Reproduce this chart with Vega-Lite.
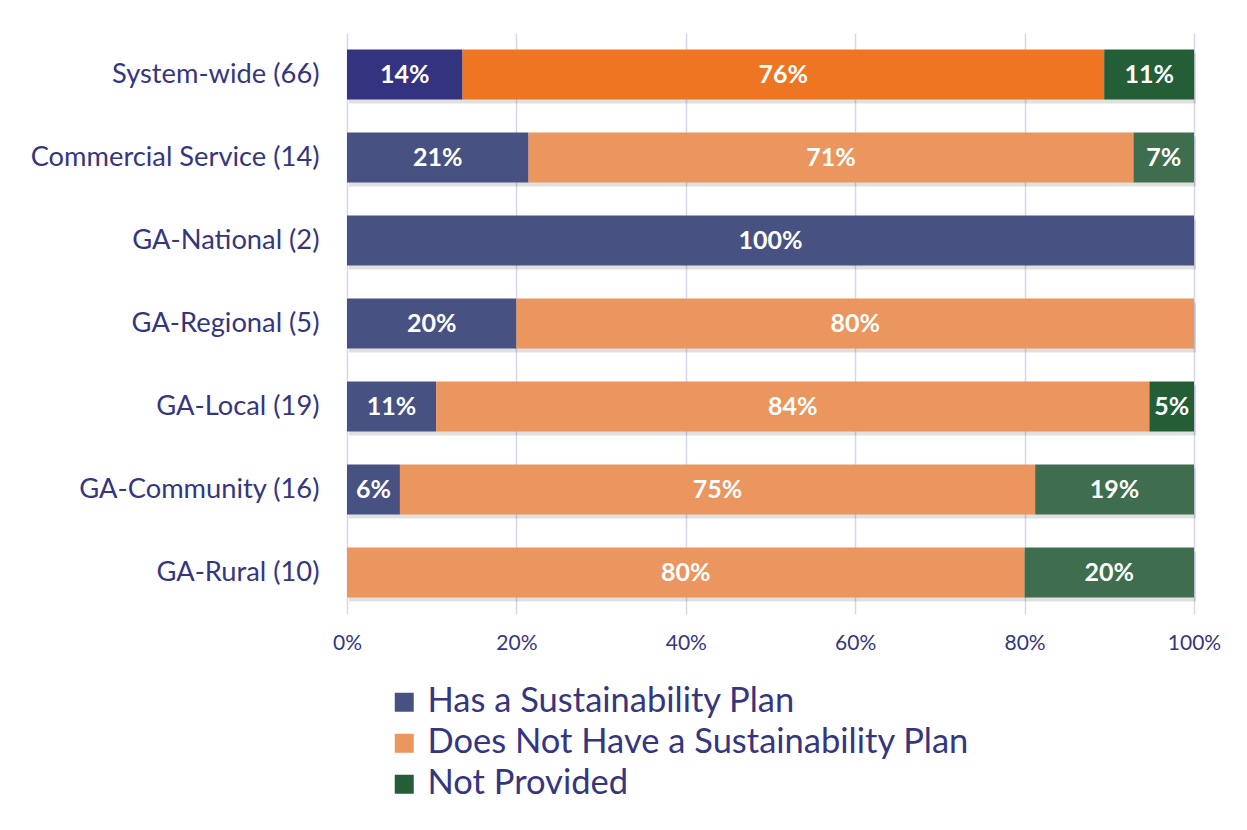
{
  "$schema": "https://vega.github.io/schema/vega-lite/v6.json",
  "autosize": "none",
  "width": 847,
  "height": 581,
  "padding": {"left": 347, "top": 33, "right": 53, "bottom": 216},
  "background": "white",
  "config": {"view": {"stroke": null}, "font": "Lato"},
  "data": {"values": [
    {"group": "System-wide (66)", "series": "Has a Sustainability Plan", "key": "sw_has", "ord": 1, "value": 0.1364},
    {"group": "System-wide (66)", "series": "Does Not Have a Sustainability Plan", "key": "sw_not", "ord": 2, "value": 0.7576},
    {"group": "System-wide (66)", "series": "Not Provided", "key": "Not Provided", "ord": 3, "value": 0.1061},
    {"group": "Commercial Service (14)", "series": "Has a Sustainability Plan", "key": "Has a Sustainability Plan", "ord": 1, "value": 0.2143},
    {"group": "Commercial Service (14)", "series": "Does Not Have a Sustainability Plan", "key": "Does Not Have a Sustainability Plan", "ord": 2, "value": 0.7143},
    {"group": "Commercial Service (14)", "series": "Not Provided", "key": "green_light", "ord": 3, "value": 0.0714},
    {"group": "GA-National (2)", "series": "Has a Sustainability Plan", "key": "Has a Sustainability Plan", "ord": 1, "value": 1.0},
    {"group": "GA-Regional (5)", "series": "Has a Sustainability Plan", "key": "Has a Sustainability Plan", "ord": 1, "value": 0.2},
    {"group": "GA-Regional (5)", "series": "Does Not Have a Sustainability Plan", "key": "Does Not Have a Sustainability Plan", "ord": 2, "value": 0.8},
    {"group": "GA-Local (19)", "series": "Has a Sustainability Plan", "key": "Has a Sustainability Plan", "ord": 1, "value": 0.1053},
    {"group": "GA-Local (19)", "series": "Does Not Have a Sustainability Plan", "key": "Does Not Have a Sustainability Plan", "ord": 2, "value": 0.8421},
    {"group": "GA-Local (19)", "series": "Not Provided", "key": "Not Provided", "ord": 3, "value": 0.0526},
    {"group": "GA-Community (16)", "series": "Has a Sustainability Plan", "key": "Has a Sustainability Plan", "ord": 1, "value": 0.0625},
    {"group": "GA-Community (16)", "series": "Does Not Have a Sustainability Plan", "key": "Does Not Have a Sustainability Plan", "ord": 2, "value": 0.75},
    {"group": "GA-Community (16)", "series": "Not Provided", "key": "green_light", "ord": 3, "value": 0.1875},
    {"group": "GA-Rural (10)", "series": "Does Not Have a Sustainability Plan", "key": "Does Not Have a Sustainability Plan", "ord": 2, "value": 0.8},
    {"group": "GA-Rural (10)", "series": "Not Provided", "key": "green_light", "ord": 3, "value": 0.2}
  ]},
  "encoding": {
    "y": {
      "field": "group", "type": "nominal",
      "sort": ["System-wide (66)", "Commercial Service (14)", "GA-National (2)", "GA-Regional (5)", "GA-Local (19)", "GA-Community (16)", "GA-Rural (10)"],
      "scale": {"paddingInner": 0.4, "paddingOuter": 0.2},
      "axis": {"title": null, "ticks": false, "domain": false, "labelFontSize": 27.3, "labelColor": "#36367f", "labelPadding": 28, "labelFont": "Lato", "labelLimit": 400}
    },
    "x": {"field": "value", "type": "quantitative", "stack": "zero", "scale": {"domain": [0, 1], "nice": false},
      "axis": {"title": null, "format": ".0%", "values": [0, 0.2, 0.4, 0.6, 0.8, 1.0], "ticks": false, "domain": false, "grid": true, "gridColor": "#d6d6ee", "gridWidth": 1.5, "labelFontSize": 21, "labelColor": "#36367f", "labelPadding": 18, "labelFont": "Lato", "labelFlush": false}},
    "order": {"field": "ord", "type": "quantitative", "sort": "ascending"}
  },
  "layer": [
    {
      "mark": {"type": "bar", "yOffset": 4, "xOffset": 2, "color": "#000000", "opacity": 0.12}
    },
    {
      "mark": {"type": "bar"},
      "encoding": {
        "color": {
          "field": "key", "type": "nominal",
          "scale": {
            "domain": ["Has a Sustainability Plan", "Does Not Have a Sustainability Plan", "Not Provided", "sw_has", "sw_not", "green_light"],
            "range": ["#485282", "#ea965e", "#235e37", "#34337f", "#ee7623", "#3e6e4e"]
          },
          "legend": {
            "values": ["Has a Sustainability Plan", "Does Not Have a Sustainability Plan", "Not Provided"],
            "title": null, "orient": "none", "legendX": 40, "legendY": 652,
            "symbolType": "square", "symbolSize": 361, "symbolStrokeWidth": 0, "symbolOpacity": 1,
            "labelFontSize": 34.5, "labelColor": "#36367f", "labelFont": "Lato", "labelLimit": 800,
            "rowPadding": 6, "labelOffset": 6
          }
        }
      }
    },
    {
      "mark": {"type": "text", "color": "white", "fontWeight": "bold", "fontSize": 25, "font": "Lato"},
      "encoding": {
        "x": {"field": "value", "type": "quantitative", "stack": "zero", "bandPosition": 0.5},
        "text": {"field": "value", "type": "quantitative", "format": ".0%"}
      }
    }
  ]
}
